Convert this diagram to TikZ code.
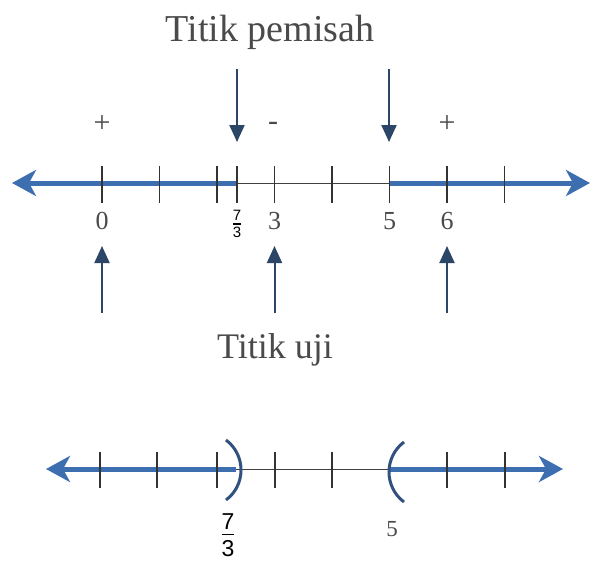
\documentclass[tikz,border=0pt]{standalone}
\usepackage{fontspec}
\setmainfont{Liberation Serif}
\newfontfamily\fracfont{Liberation Sans}
\usetikzlibrary{arrows.meta}
\definecolor{lineblue}{HTML}{3D6FB0}
\definecolor{navy}{HTML}{2C4668}
\definecolor{txtgray}{HTML}{4A4A4A}
\tikzset{
  thickline/.style={lineblue, line width=5pt},
  thinline/.style={black!75, line width=1pt},
  bigtip/.style={-{Stealth[length=24pt,width=26pt,inset=7pt]}},
  tickmark/.style={black!80, line width=1.2pt},
  pointer/.style={navy, line width=2pt, -{Triangle[length=17pt,width=15pt]}},
  lbl/.style={txtgray, font=\fontsize{26}{28}\selectfont, inner sep=0pt},
  sign/.style={txtgray, font=\fontsize{30}{32}\selectfont, inner sep=0pt},
  title/.style={txtgray, font=\fontsize{38}{42}\selectfont, inner sep=0pt},
  fraclbl/.style={black, inner sep=0pt},
  paren/.style={navy!70!lineblue, line width=3pt}
}
\newcommand{\myfrac}[3]{\vbox{\fracfont\halign{\hfil##\hfil\cr #1\cr\noalign{\kern#3\hrule height 1.3pt\kern#3}#2\cr}}}
\begin{document}
\begin{tikzpicture}[x=1pt,y=-1pt]
\useasboundingbox[fill=white] (0,0) rectangle (596,574);
% ---------- top number line ----------
\coordinate (La) at (12,183);
\coordinate (Ra) at (590,183);
\coordinate (P1) at (237,183);
\coordinate (P2) at (389,183);
\draw[thinline] (P1) -- (P2);
\draw[thickline, bigtip] (P1) -- (La);
\draw[thickline, bigtip] (P2) -- (Ra);
\foreach \x in {102,159.5,217,237,274.5,332,389.5,447,504.5}
  \draw[tickmark] (\x,166) -- (\x,203);
% labels
\node[lbl] (l0) at (102,221) {0};
\node[fraclbl, font=\fontsize{15}{15}\selectfont] (l73) at (237,224) {\myfrac{7}{3}{3pt}};
\node[lbl] (l3) at (274.5,221) {3};
\node[lbl] (l5) at (389.5,221) {5};
\node[lbl] (l6) at (447,221) {6};
% signs
\node[sign] (s1) at (102,124) {+};
\node[sign] (s2) at (273,126) {-};
\node[sign] (s3) at (447,124) {+};
% titles
\node[title] (tp) at (270,32) {Titik pemisah};
\node[title, font=\fontsize{36}{40}\selectfont] (tu) at (275,350) {Titik uji};
% pointers down
\coordinate (d1s) at (237,69);
\coordinate (d1e) at (237,142);
\coordinate (d2s) at (389,69);
\coordinate (d2e) at (389,142);
\draw[pointer] (d1s) -- (d1e);
\draw[pointer] (d2s) -- (d2e);
% pointers up
\coordinate (u1s) at (102,313);
\coordinate (u1e) at (102,246);
\coordinate (u2s) at (274.5,313);
\coordinate (u2e) at (274.5,246);
\coordinate (u3s) at (447,313);
\coordinate (u3e) at (447,246);
\draw[pointer] (u1s) -- (u1e);
\draw[pointer] (u2s) -- (u2e);
\draw[pointer] (u3s) -- (u3e);
% ---------- bottom number line ----------
\coordinate (Lb) at (46,469);
\coordinate (Rb) at (563,469);
\coordinate (Q1) at (236,469);
\coordinate (Q2) at (389,469);
\draw[thinline] (Q1) -- (Q2);
\draw[thickline, bigtip] (Q1) -- (Lb);
\draw[thickline, bigtip] (Q2) -- (Rb);
\foreach \x in {100,157,217,275,332,447,505}
  \draw[tickmark] (\x,452) -- (\x,488);
\draw[paren] (226,440) .. controls (246,455) and (246,485) .. (226,500);
\draw[paren] (404,442) .. controls (384,457) and (384,487) .. (404,502);
\node[fraclbl, font=\fontsize{23}{23}\selectfont] (b73) at (228,535) {\myfrac{7}{3}{5pt}};
\node[lbl, font=\fontsize{23}{25}\selectfont] (b5) at (392,529) {5};
\end{tikzpicture}
\end{document}
